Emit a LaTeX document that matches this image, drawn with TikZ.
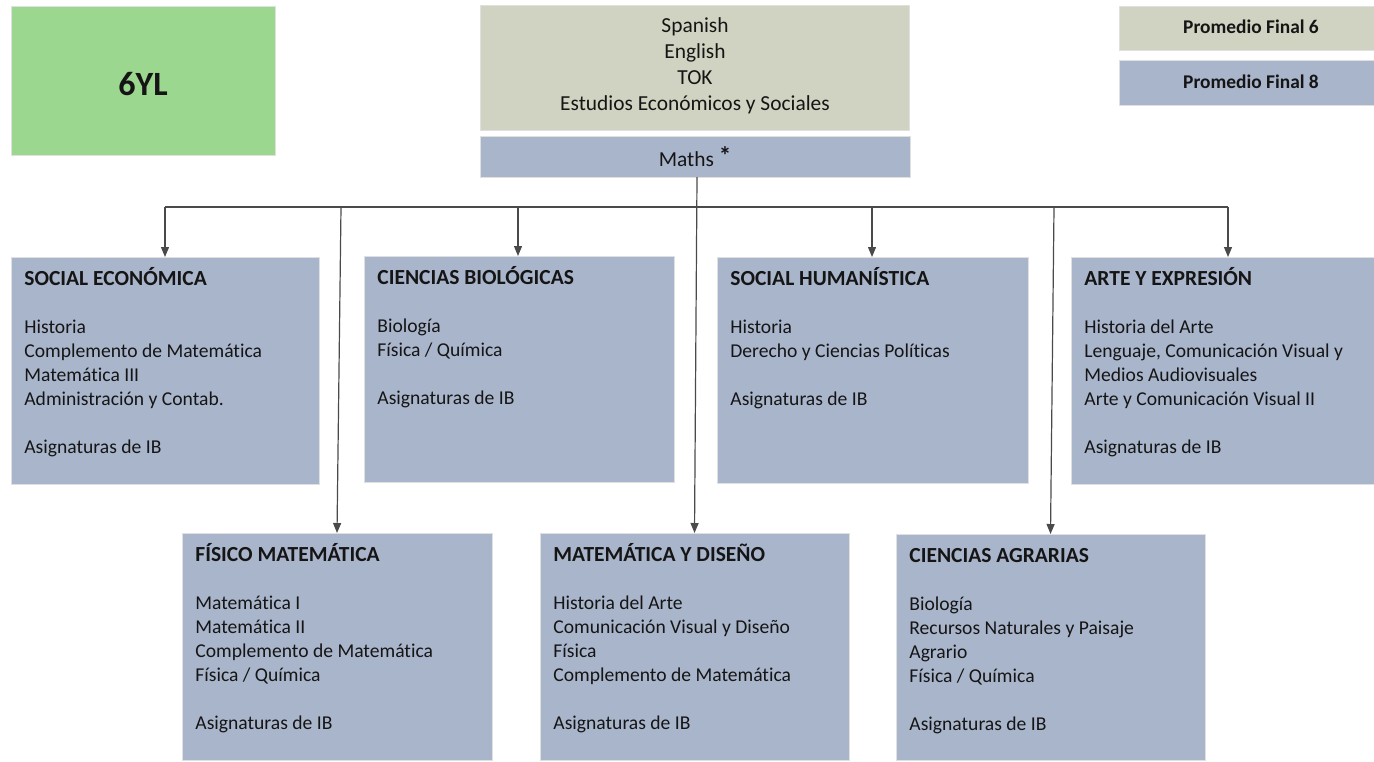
\documentclass[tikz,border=0pt]{standalone}
\usepackage{fontspec}
\setmainfont{Carlito}[Ligatures=NoCommon]
\usetikzlibrary{arrows.meta}
\definecolor{boxblue}{HTML}{A9B5CB}
\definecolor{boxbeige}{HTML}{D0D3C1}
\definecolor{boxgreen}{HTML}{9CD790}
\definecolor{txt}{HTML}{151515}
\definecolor{conncol}{HTML}{4A4A4A}
\tikzset{
  box/.style={anchor=north west, inner sep=0pt, outer sep=0pt, draw=black!12, line width=0.5pt},
  bluebox/.style={box, fill=boxblue},
  beigebox/.style={box, fill=boxbeige},
  greenbox/.style={box, fill=boxgreen},
  title/.style={anchor=base west, inner sep=0pt, text=txt, font=\fontsize{10.75}{12}\selectfont\bfseries},
  body/.style={anchor=north west, inner sep=0pt, text=txt, align=left, font=\fontsize{9.8}{12}\selectfont},
  conn/.style={draw=conncol, line width=0.6pt},
  arr/.style={conn, -{Triangle[length=5pt,width=4pt]}}
}
\begin{document}
\begin{tikzpicture}[x=0.5pt,y=-0.5pt]
\useasboundingbox[fill=white] (0,0) rectangle (1374,761);

% top row
\node[greenbox, minimum width=132pt, minimum height=74.5pt] (g6) at (11,6) {};
\node[anchor=base, inner sep=0pt, text=txt, font=\fontsize{17}{20}\selectfont\bfseries] (g6t) at (143,95) {6YL};

\node[beigebox, minimum width=214.5pt, minimum height=62.5pt] (core) at (480,5) {};
\node[anchor=north, inner sep=0pt, text=txt, align=center, font=\fontsize{10.7}{13}\selectfont] (coret) at (695,14)
  {\strut Spanish\\English\\TOK\\Estudios Económicos y Sociales};

\node[bluebox, minimum width=215pt, minimum height=20.5pt] (maths) at (480,136) {};
\node[anchor=base, inner sep=0pt, text=txt, font=\fontsize{10.7}{13}\selectfont] (mathst) at (695,166)
  {Maths \raisebox{1pt}{\fontsize{12.5}{13}\selectfont\textbf{*}}};

\node[beigebox, minimum width=128pt, minimum height=22pt] (pf6) at (1119,6) {};
\node[anchor=base, inner sep=0pt, text=txt, font=\fontsize{9.7}{12}\selectfont\bfseries] (pf6t) at (1251,33) {Promedio Final 6};
\node[bluebox, minimum width=128pt, minimum height=22.5pt] (pf8) at (1119,60) {};
\node[anchor=base, inner sep=0pt, text=txt, font=\fontsize{9.7}{12}\selectfont\bfseries] (pf8t) at (1251,88) {Promedio Final 8};

% branch boxes, upper row
\node[bluebox, minimum width=154pt, minimum height=113.5pt] (se) at (11,257) {};
\node[title] at ([shift={(13,28)}]se.north west) {SOCIAL ECONÓMICA};
\node[body] at ([shift={(13,59)}]se.north west)
  {\strut Historia\\Complemento de Matemática\\Matemática III\\Administración y Contab.\\[12pt]Asignaturas de IB};

\node[bluebox, minimum width=155pt, minimum height=113pt] (cb) at (364,256) {};
\node[title] at ([shift={(13,28)}]cb.north west) {CIENCIAS BIOLÓGICAS};
\node[body] at ([shift={(13,59)}]cb.north west)
  {\strut Biología\\Física / Química\\[12pt]Asignaturas de IB};

\node[bluebox, minimum width=155.5pt, minimum height=113pt] (sh) at (717,257) {};
\node[title] at ([shift={(13,28)}]sh.north west) {SOCIAL HUMANÍSTICA};
\node[body] at ([shift={(13,59)}]sh.north west)
  {\strut Historia\\Derecho y Ciencias Políticas\\[12pt]Asignaturas de IB};

\node[bluebox, minimum width=155pt, minimum height=113.5pt] (ae) at (1071,257) {};
\node[title] at ([shift={(13,28)}]ae.north west) {ARTE Y EXPRESIÓN};
\node[body] at ([shift={(13,59)}]ae.north west)
  {\strut Historia del Arte\\Lenguaje, Comunicación Visual y\\Medios Audiovisuales\\Arte y Comunicación Visual II\\[12pt]Asignaturas de IB};

% branch boxes, lower row
\node[bluebox, minimum width=155pt, minimum height=113.5pt] (fm) at (182,533) {};
\node[title] at ([shift={(13,28)}]fm.north west) {FÍSICO MATEMÁTICA};
\node[body] at ([shift={(13,59)}]fm.north west)
  {\strut Matemática I\\Matemática II\\Complemento de Matemática\\Física / Química\\[12pt]Asignaturas de IB};

\node[bluebox, minimum width=154.5pt, minimum height=113.5pt] (md) at (540,533) {};
\node[title] at ([shift={(13,28)}]md.north west) {MATEMÁTICA Y DISEÑO};
\node[body] at ([shift={(13,59)}]md.north west)
  {\strut Historia del Arte\\Comunicación Visual y Diseño\\Física\\Complemento de Matemática\\[12pt]Asignaturas de IB};

\node[bluebox, minimum width=154.5pt, minimum height=113pt] (ca) at (896,534) {};
\node[title] at ([shift={(13,28)}]ca.north west) {CIENCIAS AGRARIAS};
\node[body] at ([shift={(13,59)}]ca.north west)
  {\strut Biología\\Recursos Naturales y Paisaje\\Agrario\\Física / Química\\[12pt]Asignaturas de IB};

% connectors
\coordinate (b1) at (165,207);
\coordinate (b2) at (341,207);
\coordinate (b3) at (518,207);
\coordinate (b4) at (872,207);
\coordinate (b5) at (1054,207);
\coordinate (b6) at (1228,207);
\coordinate (mb) at (697,207);
\draw[conn] (b1) -- (b6);
\draw[arr] (maths.south -| mb) -- (md.north);
\draw[arr] (b1) -- (b1 |- se.north);
\draw[arr] (b2) -- (fm.north);
\draw[arr] (b3) -- (b3 |- cb.north);
\draw[arr] (b4) -- (b4 |- sh.north);
\draw[arr] (b5) -- (ca.north);
\draw[arr] (b6) -- (b6 |- ae.north);
\end{tikzpicture}
\end{document}
